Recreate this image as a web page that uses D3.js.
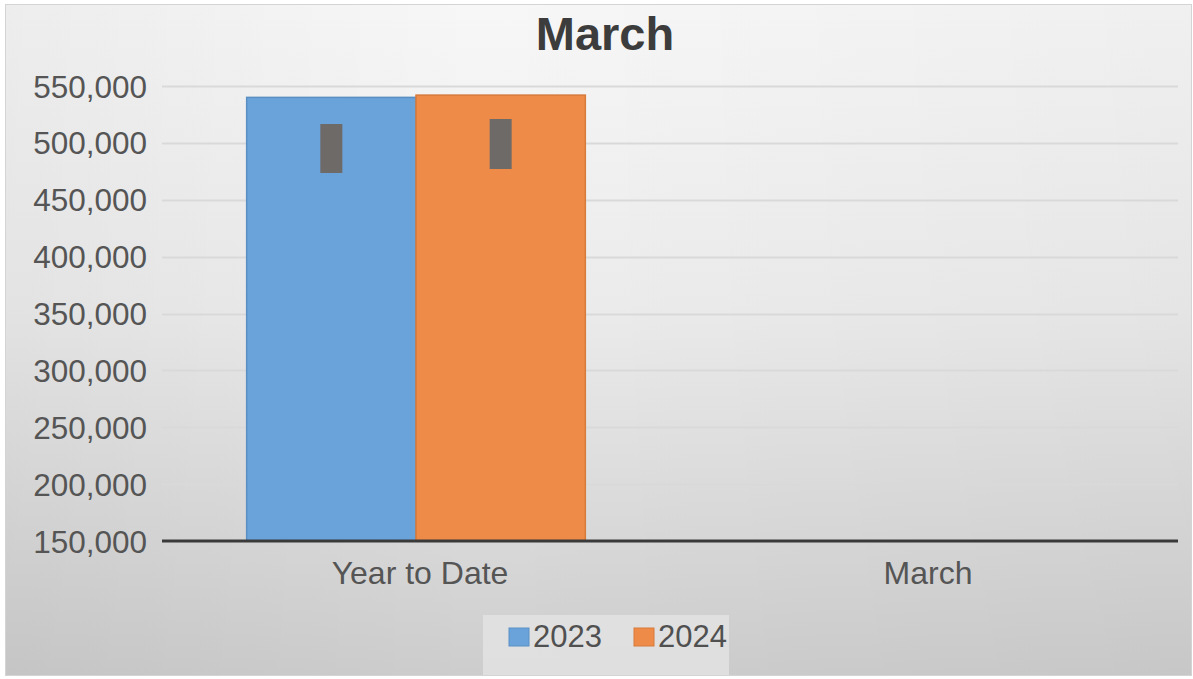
<!DOCTYPE html>
<html><head><meta charset="utf-8">
<script src="https://cdn.jsdelivr.net/npm/d3@7"></script>
<style>body{margin:0;background:#fff;}svg{display:block;font-family:Arial,"Liberation Sans",sans-serif;}</style>
</head><body>
<svg id="c" width="1193" height="679"></svg>
<script>
const title = "March";
const categories = ["Year to Date", "March"];
const seriesNames = ["2023", "2024"];
const values2023 = [540000, null];
const values2024 = [542000, null];
const errLow2023 = [473500, null];
const errHigh2023 = [516500, null];
const errLow2024 = [477000, null];
const errHigh2024 = [521000, null];
const yTicks = [150000, 200000, 250000, 300000, 350000, 400000, 450000, 500000, 550000];
const colors = ["#6aa3da", "#ee8b48"];
const strokes = ["#5a8fc4", "#d77a3a"];

(function(){
const svg = d3.select("#c");
const W = 1193, H = 679;
const FF = "Arial,'Liberation Sans',sans-serif";
const defs = svg.append("defs");
const g1 = defs.append("linearGradient").attr("id","bg").attr("x1",0).attr("y1",0).attr("x2",0).attr("y2",1);
g1.append("stop").attr("offset","0%").attr("stop-color","#f7f7f7");
g1.append("stop").attr("offset","45%").attr("stop-color","#ececec");
g1.append("stop").attr("offset","100%").attr("stop-color","#cdcdcd");
const g2 = defs.append("linearGradient").attr("id","bgh").attr("x1",0).attr("y1",0).attr("x2",1).attr("y2",0);
g2.append("stop").attr("offset","0%").attr("stop-color","#000").attr("stop-opacity",0.04);
g2.append("stop").attr("offset","40%").attr("stop-color","#000").attr("stop-opacity",0);
g2.append("stop").attr("offset","100%").attr("stop-color","#000").attr("stop-opacity",0.03);

svg.append("rect").attr("x",0).attr("y",0).attr("width",W).attr("height",H).attr("fill","#ffffff");
svg.append("rect").attr("x",5.5).attr("y",4.5).attr("width",1186).attr("height",671).attr("fill","url(#bg)").attr("stroke","#d4d4d4").attr("stroke-width",1);
svg.append("rect").attr("x",6).attr("y",5).attr("width",1185).attr("height",670).attr("fill","url(#bgh)");

const pL = 162, pR = 1178, pT = 86, pB = 541;
const y = d3.scaleLinear().domain([150000, 550000]).range([pB, pT]);
const x0 = d3.scaleBand().domain(categories).range([pL, pR]).paddingInner(0).paddingOuter(0);
const x1 = d3.scaleBand().domain(seriesNames).range([0, x0.bandwidth()]).paddingOuter(0.5).paddingInner(0);

// gridlines
svg.append("g").selectAll("line").data(yTicks.slice(1)).join("line")
  .attr("x1", pL).attr("x2", pR)
  .attr("y1", d => Math.round(y(d))+0.5).attr("y2", d => Math.round(y(d))+0.5)
  .attr("stroke", "#d9d9d9").attr("stroke-width", 2);

// y axis labels
const yAxis = d3.axisLeft(y).tickValues(yTicks).tickFormat(d3.format(",")).tickSize(0).tickPadding(15);
const ya = svg.append("g").attr("transform", `translate(${pL},0)`).call(yAxis);
ya.select(".domain").remove();
ya.selectAll("text").attr("font-size", 31.5).attr("fill", "#555555").attr("font-family", FF).attr("dy","0.35em");

// bars
const seriesVals = [values2023, values2024];
const errs = [[errLow2023, errHigh2023],[errLow2024, errHigh2024]];
categories.forEach((c, ci) => {
  seriesNames.forEach((s, si) => {
    const v = seriesVals[si][ci];
    if (v == null) return;
    const bx = x0(c) + x1(s);
    svg.append("rect").attr("x", bx).attr("y", y(v)).attr("width", x1.bandwidth()).attr("height", y(150000) - y(v))
      .attr("fill", colors[si]).attr("stroke", strokes[si]).attr("stroke-width", 1.5);
  });
});
// error bars
categories.forEach((c, ci) => {
  seriesNames.forEach((s, si) => {
    const lo = errs[si][0][ci], hi = errs[si][1][ci];
    if (lo == null) return;
    const cx = x0(c) + x1(s) + x1.bandwidth()/2;
    svg.append("line").attr("x1", cx).attr("x2", cx).attr("y1", y(hi)).attr("y2", y(lo))
      .attr("stroke", "#6e6a68").attr("stroke-width", 22);
  });
});

// x axis
svg.append("line").attr("x1", pL).attr("x2", pR).attr("y1", pB).attr("y2", pB).attr("stroke", "#3a3a3a").attr("stroke-width", 3);
const xAxis = d3.axisBottom(x0).tickSize(0).tickPadding(0);
const xa = svg.append("g").attr("transform", `translate(4,${pB})`).call(xAxis);
xa.select(".domain").remove();
xa.selectAll("text").attr("font-size", 32).attr("fill", "#555555").attr("font-family", FF).attr("dy", null).attr("y", 43);

// title
svg.append("text").attr("x", 605).attr("y", 50).attr("text-anchor", "middle").attr("font-size", 47).attr("font-weight", "bold").attr("fill", "#3c3c3c").attr("font-family", FF).text(title);

// legend
svg.append("rect").attr("x", 483).attr("y", 615).attr("width", 246).attr("height", 60).attr("fill", "#e4e4e4").attr("opacity",0.8);
const lx = [509, 634];
seriesNames.forEach((s, i) => {
  svg.append("rect").attr("x", lx[i]).attr("y", 628).attr("width", 20).attr("height", 18).attr("fill", colors[i]).attr("stroke", strokes[i]);
  svg.append("text").attr("x", lx[i] + 24).attr("y", 647).attr("font-size", 31).attr("fill", "#505050").attr("font-family", FF).text(s);
});
})();
</script>
</body></html>
